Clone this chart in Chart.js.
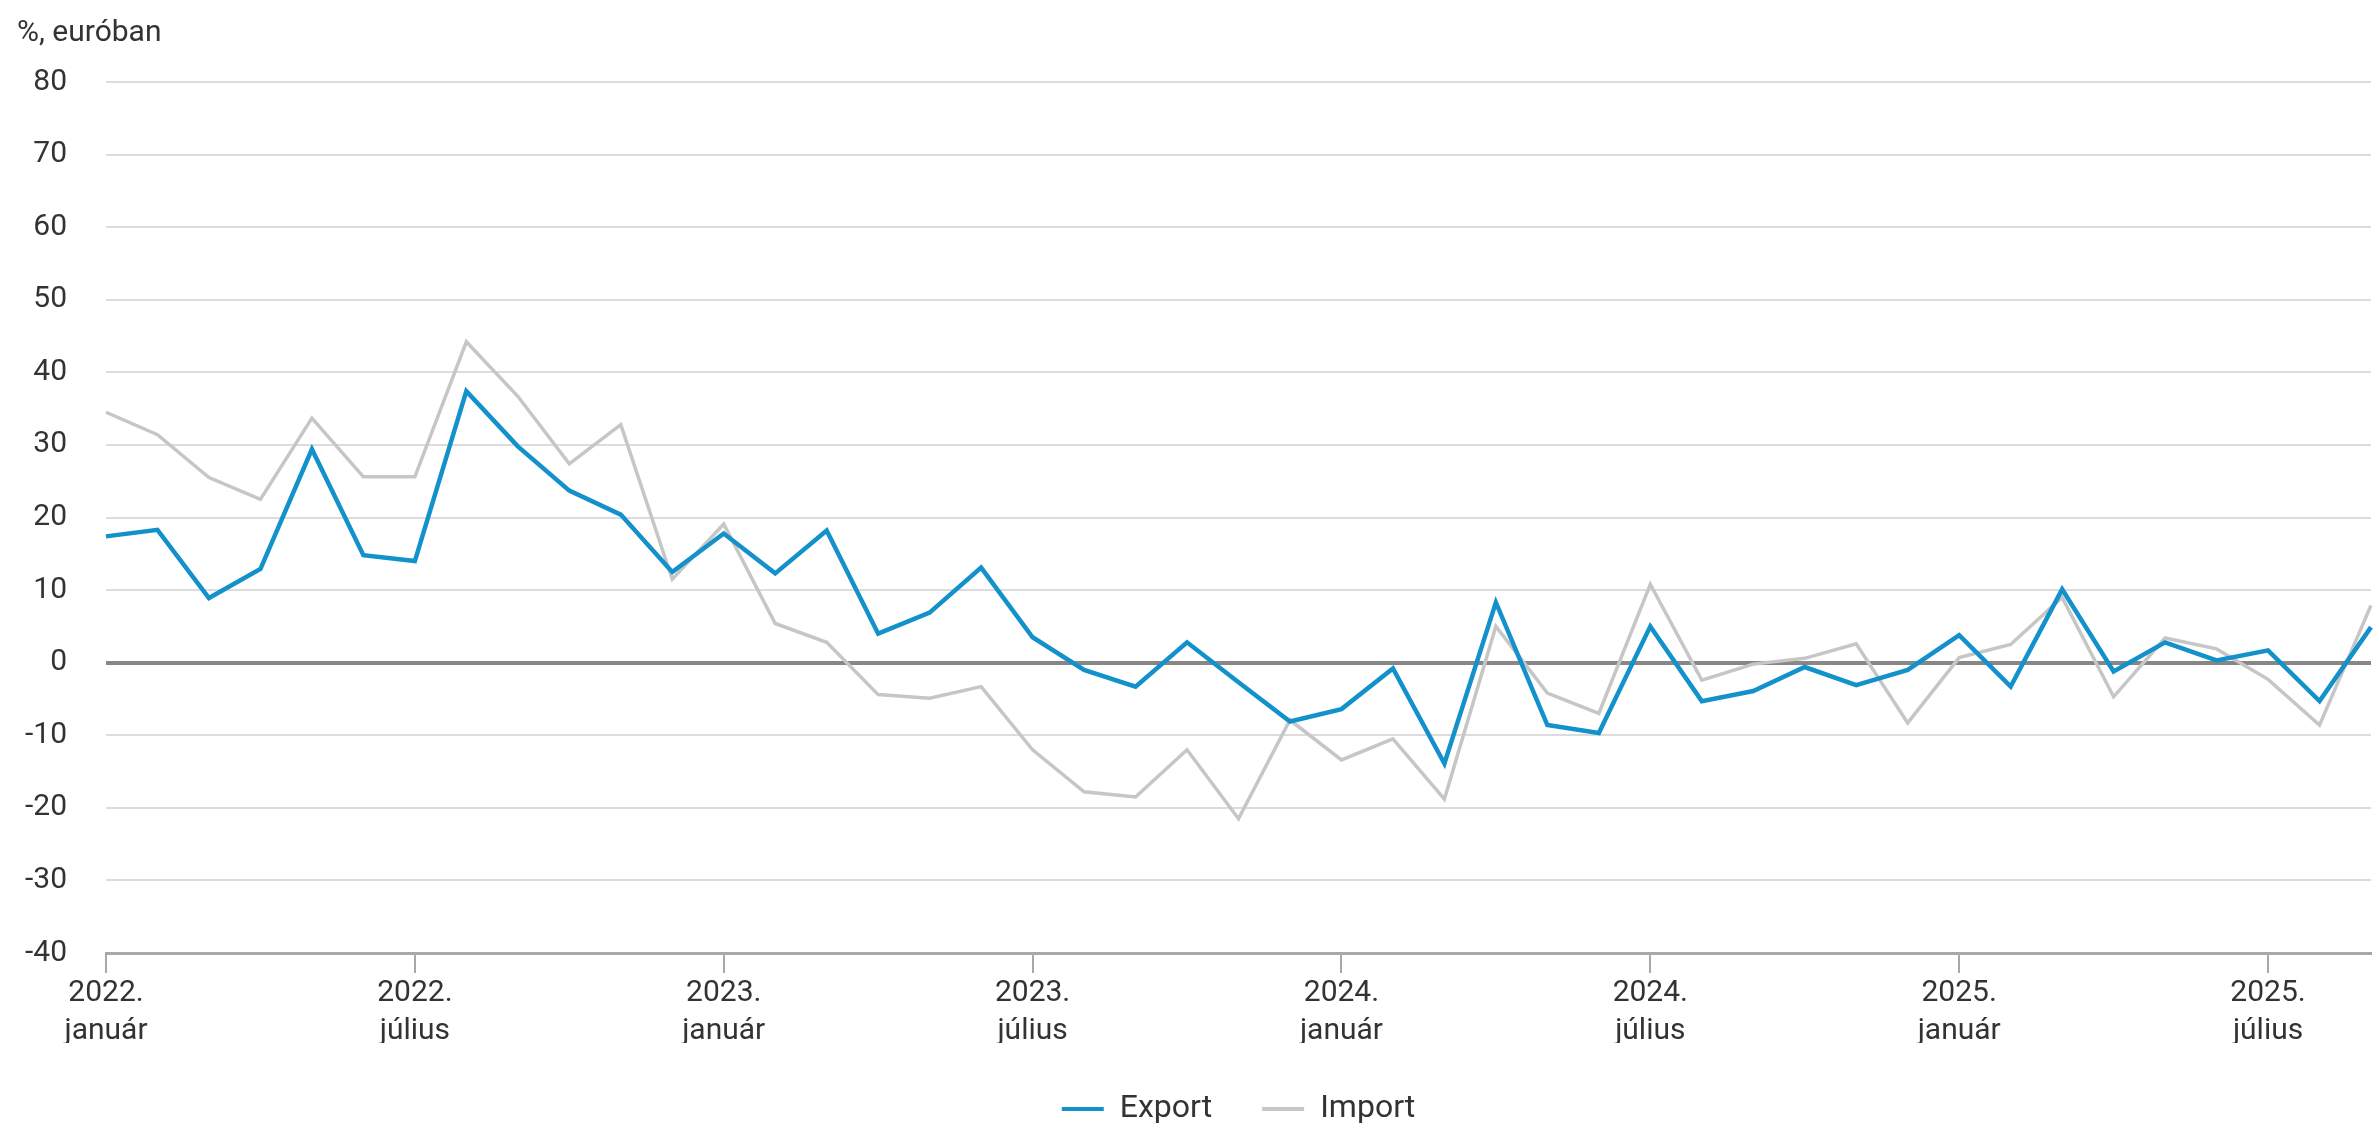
<!DOCTYPE html>
<html>
<head>
<meta charset="utf-8">
<script src="https://cdn.jsdelivr.net/npm/chart.js@4.4.1/dist/chart.umd.min.js"></script>
<style>
html,body{margin:0;padding:0;background:#fff;overflow:hidden}
canvas{display:block}
</style>
</head>
<body>
<canvas id="c" width="2379" height="1135"></canvas>
<script>
// ---- data ----
const monthNames = ['január','február','március','április','május','június','július','augusztus','szeptember','október','november','december'];
const years = ['2022.','2023.','2024.','2025.'];
const monthCount = 45; // 2022. január – 2025. szeptember
const categories = [];
for (let i = 0; i < monthCount; i++) {
  categories.push(years[Math.floor(i / 12)] + ' ' + monthNames[i % 12]);
}
const exportValues = [17.4, 18.3, 8.9, 12.9, 29.4, 14.8, 14.0, 37.4, 29.8, 23.7, 20.4, 12.5,
  17.8, 12.3, 18.2, 4.0, 6.9, 13.1, 3.5, -1.0, -3.3, 2.8, -2.7, -8.1,
  -6.4, -0.8, -13.9, 8.3, -8.6, -9.7, 5.0, -5.3, -3.9, -0.6, -3.1, -1.0,
  3.8, -3.3, 10.1, -1.2, 2.8, 0.3, 1.7, -5.3, 4.9];
const importValues = [34.5, 31.4, 25.5, 22.5, 33.7, 25.6, 25.6, 44.2, 36.7, 27.4, 32.8, 11.5,
  19.1, 5.4, 2.8, -4.4, -4.9, -3.3, -12.0, -17.8, -18.5, -12.0, -21.5, -7.9,
  -13.4, -10.5, -18.8, 5.0, -4.2, -7.0, 10.8, -2.4, -0.2, 0.6, 2.6, -8.3,
  0.7, 2.5, 9.0, -4.7, 3.4, 1.9, -2.3, -8.6, 7.9];
const seriesNames = ['Export', 'Import'];
const yAxisTitle = '%, euróban';
const yMin = -40, yMax = 80, yStep = 10;
const tickEvery = 6;

// ---- chart ----
const FONT = 'Roboto, "Noto Sans", sans-serif';
new Chart(document.getElementById('c'), {
  type: 'line',
  data: {
    labels: categories,
    datasets: [
      { label: seriesNames[0], data: exportValues, borderColor: '#1391cb', backgroundColor: '#1391cb',
        borderWidth: 4.5, pointRadius: 0, tension: 0 },
      { label: seriesNames[1], data: importValues, borderColor: '#c6c6c7', backgroundColor: '#c6c6c7',
        borderWidth: 3.5, pointRadius: 0, tension: 0 }
    ]
  },
  options: {
    responsive: false,
    devicePixelRatio: 1,
    animation: false,
    layout: { padding: { top: 0, left: 17, right: 8, bottom: 0 } },
    plugins: {
      tooltip: { enabled: false },
      title: {
        display: true, text: yAxisTitle, align: 'start', color: '#333',
        font: { family: FONT, size: 30, weight: 'normal', lineHeight: 1.2 },
        padding: { top: 15, bottom: 31 }
      },
      legend: {
        position: 'bottom', fullSize: false, maxHeight: 92,
        labels: {
          boxWidth: 42, boxHeight: 4, padding: 50, color: '#333',
          font: { family: FONT, size: 32 },
          generateLabels: (chart) => chart.data.datasets.map((d, i) => ({
            text: d.label, fillStyle: d.borderColor, strokeStyle: d.borderColor,
            lineWidth: 0, hidden: false, datasetIndex: i, fontColor: '#333'
          }))
        }
      }
    },
    scales: {
      x: {
        offset: false,
        afterFit: (s) => { s.height = 90; },
        border: { display: true, color: '#a8a8a8', width: 3 },
        grid: {
          drawOnChartArea: false, drawTicks: true, tickLength: 20, lineWidth: 2,
          color: (ctx) => (ctx.index % tickEvery === 0 ? '#a8a8a8' : 'rgba(0,0,0,0)')
        },
        ticks: {
          autoSkip: false, maxRotation: 0, minRotation: 0, padding: 2, color: '#333',
          font: { family: FONT, size: 30, lineHeight: 1.25 },
          callback: (v, i) => (i % tickEvery === 0 ? categories[i].split(' ') : '')
        }
      },
      y: {
        min: yMin, max: yMax,
        afterFit: (s) => { s.width = 89; },
        border: { display: false },
        grid: {
          drawTicks: false,
          color: (ctx) => (ctx.tick && ctx.tick.value === 0 ? '#878787' : (ctx.tick && ctx.tick.value === yMin ? '#a8a8a8' : '#dcdcdc')),
          lineWidth: (ctx) => (ctx.tick && ctx.tick.value === 0 ? 4 : 2)
        },
        ticks: {
          stepSize: yStep, padding: 39, color: '#333',
          font: { family: FONT, size: 30 }
        }
      }
    }
  }
});
</script>
</body>
</html>
